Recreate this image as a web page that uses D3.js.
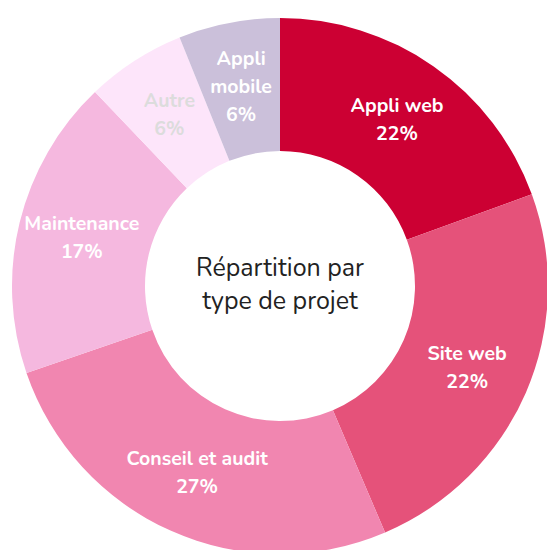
<!DOCTYPE html>
<html>
<head>
    <meta charset="utf-8">
    <title>Répartition par type de projet</title>
    <script src="https://d3js.org/d3.v7.min.js"></script>
    <style>
        body {
            margin: 0;
            background: #fff;
            font-family: Nunito, Lato, "Open Sans", sans-serif;
        }
        svg {
            display: block;
        }
    </style>
</head>
<body>
    <svg id="chart" width="547" height="550"></svg>

    <script>
        // slices, clockwise from 12 o'clock
        const categories = ["Appli web", "Site web", "Conseil et audit", "Maintenance", "Autre", "Appli mobile"];
        const labelLines = [["Appli web"], ["Site web"], ["Conseil et audit"], ["Maintenance"], ["Autre"], ["Appli", "mobile"]];
        const shares = [19.4, 24.1, 26.1, 18.1, 6.0, 6.1];
        const percentLabels = ["22%", "22%", "27%", "17%", "6%", "6%"];
        const colors = ["#cc0033", "#e5527a", "#f186b0", "#f5b8df", "#fde5fa", "#cbc0da"];
        const labelColors = ["#fff", "#fff", "#fff", "#fff", "#dcdcdc", "#fff"];

        const svg = d3.select("#chart");
        const cx = 280, cy = 286;
        const outerR = 268, innerR = 135;

        const g = svg.append("g").attr("transform", `translate(${cx},${cy})`);

        const pie = d3.pie().sort(null).value(d => d.value);
        const data = categories.map((c, i) => ({
            name: c, value: shares[i], lines: labelLines[i],
            pct: percentLabels[i], color: colors[i], text: labelColors[i]
        }));
        const arcs = pie(data);

        const arc = d3.arc().innerRadius(innerR).outerRadius(outerR);
        const labelArc = d3.arc().innerRadius(204).outerRadius(204);

        g.selectAll("path")
            .data(arcs)
            .enter()
            .append("path")
            .attr("d", arc)
            .attr("fill", d => d.data.color);

        const lineH = 28;
        const labels = g.selectAll(".lbl")
            .data(arcs)
            .enter()
            .append("text")
            .attr("class", "lbl")
            .attr("transform", d => `translate(${labelArc.centroid(d)})`)
            .attr("text-anchor", "middle")
            .attr("fill", d => d.data.text)
            .style("font-size", "19.5px")
            .style("font-weight", "bold");

        labels.each(function(d) {
            const rows = d.data.lines.concat([d.data.pct]);
            const top = -(rows.length - 1) * lineH / 2;
            d3.select(this).selectAll("tspan")
                .data(rows)
                .enter()
                .append("tspan")
                .attr("x", 0)
                .attr("y", (r, i) => top + i * lineH)
                .attr("dy", "0.35em")
                .text(r => r);
        });

        // centre title
        g.append("text")
            .attr("text-anchor", "middle")
            .attr("fill", "#222")
            .style("font-size", "25px")
            .selectAll("tspan")
            .data(["Répartition par", "type de projet"])
            .enter()
            .append("tspan")
            .attr("x", 0)
            .attr("y", (d, i) => -10 + i * 33)
            .text(d => d);
    </script>
</body>
</html>
